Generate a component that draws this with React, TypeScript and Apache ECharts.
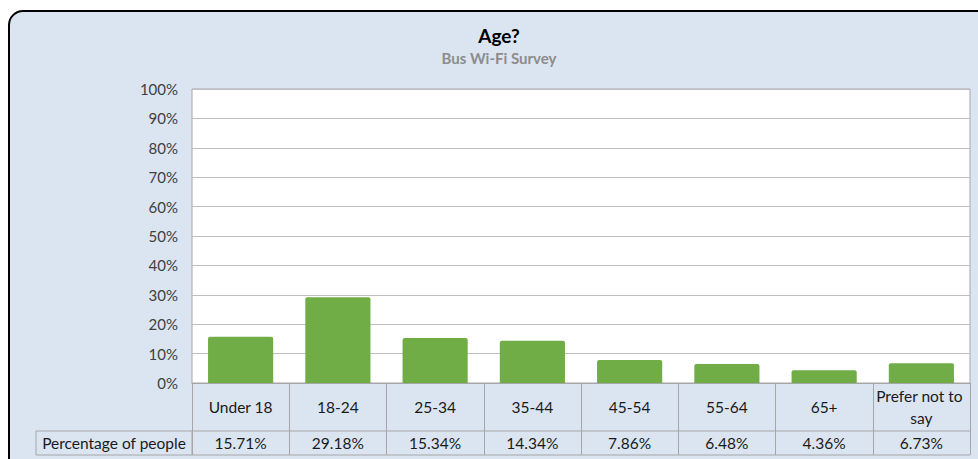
import React, { useEffect, useRef } from "react";
import * as echarts from "echarts";

const categories = ["Under 18", "18-24", "25-34", "35-44", "45-54", "55-64", "65+", "Prefer not to say"];
const values = [15.71, 29.18, 15.34, 14.34, 7.86, 6.48, 4.36, 6.73];
const seriesName = "Percentage of people";
const titleText = "Age?";
const subtitleText = "Bus Wi-Fi Survey";

const FONT = "Lato, 'Open Sans', sans-serif";
const GRID_LEFT = 192;
const GRID_RIGHT = 8;
const GRID_TOP = 89;
const GRID_BOTTOM = 76;
const TABLE_LEFT = 36;
const LINE = "#a6a6a6";

export default function App() {
  const ref = useRef<HTMLDivElement>(null);
  useEffect(() => {
    if (!ref.current) return;
    const chart = echarts.init(ref.current, undefined, { renderer: "svg" });
    const W = 978;
    const H = 459;
    const axisY = H - GRID_BOTTOM; // 383
    const row2Top = axisY + 48;
    const row2Bottom = axisY + 72;
    chart.setOption({
      animation: false,
      backgroundColor: "#ffffff",
      grid: {
        left: GRID_LEFT,
        right: GRID_RIGHT,
        top: GRID_TOP,
        bottom: GRID_BOTTOM,
        show: true,
        backgroundColor: "#ffffff",
        borderColor: LINE,
        borderWidth: 1,
      },
      graphic: [
        {
          type: "rect",
          z: -10,
          silent: true,
          shape: { x: 9, y: 11, width: 1010, height: 500, r: 14 },
          style: { fill: "#dbe5f1", stroke: "#000000", lineWidth: 2 },
        },
        {
          type: "text",
          x: 499,
          y: 35,
          style: {
            text: titleText,
            fontFamily: FONT,
            fontSize: 19,
            fontWeight: "bold",
            fill: "#000000",
            align: "center",
            verticalAlign: "middle",
          },
        },
        {
          type: "text",
          x: 499,
          y: 58,
          style: {
            text: subtitleText,
            fontFamily: FONT,
            fontSize: 15,
            fontWeight: "bold",
            fill: "#8c8c8c",
            align: "center",
            verticalAlign: "middle",
          },
        },
        {
          type: "line",
          shape: { x1: TABLE_LEFT, y1: row2Top, x2: W - GRID_RIGHT, y2: row2Top },
          style: { stroke: LINE, lineWidth: 1 },
        },
        {
          type: "line",
          shape: { x1: TABLE_LEFT, y1: row2Bottom, x2: W - GRID_RIGHT, y2: row2Bottom },
          style: { stroke: LINE, lineWidth: 1 },
        },
        {
          type: "line",
          shape: { x1: TABLE_LEFT, y1: row2Top, x2: TABLE_LEFT, y2: row2Bottom },
          style: { stroke: LINE, lineWidth: 1 },
        },
        {
          type: "line",
          shape: { x1: GRID_LEFT, y1: row2Top, x2: GRID_LEFT, y2: row2Bottom },
          style: { stroke: LINE, lineWidth: 1 },
        },
        {
          type: "text",
          x: (TABLE_LEFT + GRID_LEFT) / 2,
          y: (row2Top + row2Bottom) / 2,
          style: {
            text: seriesName,
            fontFamily: FONT,
            fontSize: 15.5,
            fill: "#1a1a1a",
            align: "center",
            verticalAlign: "middle",
          },
        },
      ],
      xAxis: [
        {
          type: "category",
          data: categories,
          position: "bottom",
          axisLine: { show: true, lineStyle: { color: LINE, width: 1 } },
          axisTick: { show: true, length: 72, lineStyle: { color: LINE, width: 1 } },
          axisLabel: {
            interval: 0,
            margin: 24,
            verticalAlign: "middle",
            fontFamily: FONT,
            fontSize: 15.5,
            color: "#1a1a1a",
            width: 94,
            overflow: "break",
            lineHeight: 22,
          },
        },
        {
          type: "category",
          data: categories,
          position: "bottom",
          offset: 48,
          axisLine: { show: false },
          axisTick: { show: false },
          axisLabel: {
            interval: 0,
            margin: 12,
            verticalAlign: "middle",
            fontFamily: FONT,
            fontSize: 15.5,
            color: "#1a1a1a",
            formatter: (_v: string, i: number) => values[i].toFixed(2) + "%",
          },
        },
      ],
      yAxis: {
        type: "value",
        min: 0,
        max: 100,
        interval: 10,
        axisLine: { show: false },
        axisTick: { show: false },
        axisLabel: {
          formatter: "{value}%",
          margin: 14,
          fontFamily: FONT,
          fontSize: 15,
          color: "#404040",
        },
        splitLine: { show: true, lineStyle: { color: "#bfbfbf", width: 1 } },
      },
      series: [
        {
          name: seriesName,
          type: "bar",
          data: values,
          barWidth: "67%",
          itemStyle: { color: "#70ad47", borderRadius: [2, 2, 0, 0] },
        },
      ],
    });
    return () => chart.dispose();
  }, []);
  return (
    <div
      ref={ref}
      style={{ position: "fixed", left: 0, top: 0, width: 978, height: 459 }}
    />
  );
}
